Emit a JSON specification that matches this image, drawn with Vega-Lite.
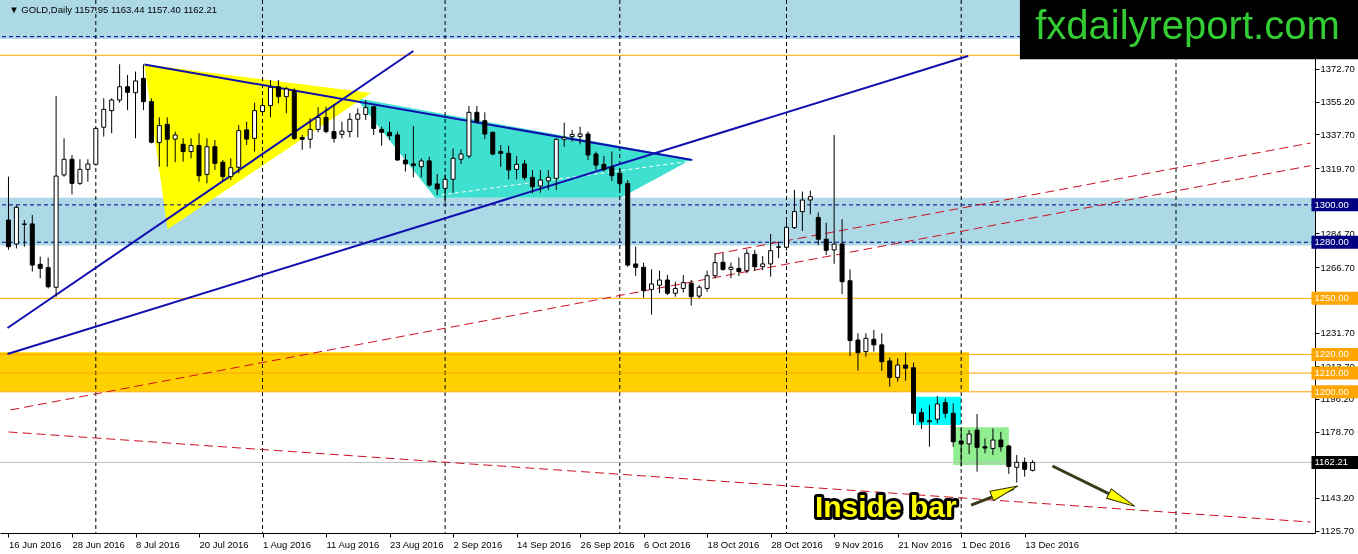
{
  "$schema": "https://vega.github.io/schema/vega-lite/v6.json",
  "width": 1315,
  "height": 533,
  "autosize": {"type": "none"},
  "padding": {"left": 0, "top": 0, "right": 43, "bottom": 21},
  "background": "white",
  "config": {
    "view": {"stroke": null},
    "axis": {"labelFont": "Liberation Sans", "labelFontSize": 9.5, "labelColor": "#000000", "domainColor": "#000000", "tickColor": "#000000", "domainWidth": 1, "tickWidth": 1, "grid": false},
    "text": {"font": "Liberation Sans"}
  },
  "datasets": {
    "candles": [
      {"i":0,"date":"2016-06-16","o":1291.9,"h":1315.1,"l":1276.0,"c":1277.6},
      {"i":1,"date":"2016-06-17","o":1279.1,"h":1299.9,"l":1276.7,"c":1298.7},
      {"i":2,"date":"2016-06-20","o":1289.5,"h":1291.9,"l":1277.6,"c":1289.8},
      {"i":3,"date":"2016-06-21","o":1289.8,"h":1294.6,"l":1264.3,"c":1267.8},
      {"i":4,"date":"2016-06-22","o":1268.2,"h":1272.3,"l":1260.7,"c":1266.0},
      {"i":5,"date":"2016-06-23","o":1266.4,"h":1271.8,"l":1255.3,"c":1256.2},
      {"i":6,"date":"2016-06-24","o":1255.9,"h":1358.2,"l":1250.9,"c":1315.4},
      {"i":7,"date":"2016-06-27","o":1316.0,"h":1335.6,"l":1315.1,"c":1324.4},
      {"i":8,"date":"2016-06-28","o":1324.4,"h":1326.7,"l":1305.6,"c":1311.5},
      {"i":9,"date":"2016-06-29","o":1311.5,"h":1324.4,"l":1310.6,"c":1319.0},
      {"i":10,"date":"2016-06-30","o":1319.0,"h":1324.4,"l":1312.4,"c":1321.9},
      {"i":11,"date":"2016-07-01","o":1321.7,"h":1341.5,"l":1321.0,"c":1340.9},
      {"i":12,"date":"2016-07-04","o":1341.5,"h":1357.0,"l":1336.5,"c":1351.1},
      {"i":13,"date":"2016-07-05","o":1350.4,"h":1357.0,"l":1338.3,"c":1356.1},
      {"i":14,"date":"2016-07-06","o":1356.1,"h":1375.2,"l":1354.7,"c":1363.2},
      {"i":15,"date":"2016-07-07","o":1363.2,"h":1369.5,"l":1350.7,"c":1360.2},
      {"i":16,"date":"2016-07-08","o":1360.0,"h":1371.3,"l":1335.6,"c":1366.3},
      {"i":17,"date":"2016-07-11","o":1367.7,"h":1375.2,"l":1350.7,"c":1355.2},
      {"i":18,"date":"2016-07-12","o":1355.2,"h":1357.0,"l":1332.9,"c":1333.5},
      {"i":19,"date":"2016-07-13","o":1333.3,"h":1346.8,"l":1320.4,"c":1342.4},
      {"i":20,"date":"2016-07-14","o":1343.1,"h":1346.8,"l":1320.4,"c":1335.1},
      {"i":21,"date":"2016-07-15","o":1335.2,"h":1339.2,"l":1322.8,"c":1337.4},
      {"i":22,"date":"2016-07-18","o":1332.4,"h":1335.6,"l":1323.1,"c":1328.5},
      {"i":23,"date":"2016-07-19","o":1328.5,"h":1335.6,"l":1324.9,"c":1331.7},
      {"i":24,"date":"2016-07-20","o":1331.7,"h":1338.3,"l":1312.4,"c":1315.6},
      {"i":25,"date":"2016-07-21","o":1316.3,"h":1335.6,"l":1311.5,"c":1331.1},
      {"i":26,"date":"2016-07-22","o":1331.1,"h":1334.7,"l":1318.7,"c":1322.2},
      {"i":27,"date":"2016-07-25","o":1322.8,"h":1324.0,"l":1312.8,"c":1315.1},
      {"i":28,"date":"2016-07-26","o":1315.1,"h":1324.9,"l":1313.3,"c":1319.9},
      {"i":29,"date":"2016-07-27","o":1320.1,"h":1342.7,"l":1316.9,"c":1339.7},
      {"i":30,"date":"2016-07-28","o":1340.1,"h":1344.5,"l":1332.0,"c":1335.2},
      {"i":31,"date":"2016-07-29","o":1335.6,"h":1354.7,"l":1328.5,"c":1350.4},
      {"i":32,"date":"2016-08-01","o":1349.9,"h":1355.2,"l":1348.1,"c":1353.1},
      {"i":33,"date":"2016-08-02","o":1353.1,"h":1366.8,"l":1346.8,"c":1362.9},
      {"i":34,"date":"2016-08-03","o":1363.2,"h":1366.8,"l":1354.3,"c":1357.9},
      {"i":35,"date":"2016-08-04","o":1357.9,"h":1363.2,"l":1349.0,"c":1362.0},
      {"i":36,"date":"2016-08-05","o":1361.1,"h":1362.3,"l":1334.7,"c":1335.6},
      {"i":37,"date":"2016-08-08","o":1336.0,"h":1337.4,"l":1329.4,"c":1335.1},
      {"i":38,"date":"2016-08-09","o":1335.1,"h":1346.3,"l":1330.2,"c":1340.4},
      {"i":39,"date":"2016-08-10","o":1340.4,"h":1352.2,"l":1338.8,"c":1346.8},
      {"i":40,"date":"2016-08-11","o":1346.8,"h":1352.5,"l":1338.3,"c":1339.2},
      {"i":41,"date":"2016-08-12","o":1339.2,"h":1353.8,"l":1333.3,"c":1335.6},
      {"i":42,"date":"2016-08-15","o":1337.7,"h":1344.5,"l":1335.6,"c":1339.5},
      {"i":43,"date":"2016-08-16","o":1339.2,"h":1349.0,"l":1336.1,"c":1345.8},
      {"i":44,"date":"2016-08-17","o":1345.8,"h":1351.6,"l":1336.1,"c":1348.6},
      {"i":45,"date":"2016-08-18","o":1348.4,"h":1356.1,"l":1345.4,"c":1352.0},
      {"i":46,"date":"2016-08-19","o":1352.5,"h":1352.9,"l":1337.4,"c":1340.9},
      {"i":47,"date":"2016-08-22","o":1340.4,"h":1341.8,"l":1331.7,"c":1338.8},
      {"i":48,"date":"2016-08-23","o":1338.8,"h":1344.5,"l":1334.7,"c":1337.0},
      {"i":49,"date":"2016-08-24","o":1337.4,"h":1339.2,"l":1323.6,"c":1324.0},
      {"i":50,"date":"2016-08-25","o":1324.0,"h":1327.2,"l":1317.8,"c":1321.9},
      {"i":51,"date":"2016-08-26","o":1321.9,"h":1342.2,"l":1314.7,"c":1321.0},
      {"i":52,"date":"2016-08-29","o":1320.4,"h":1324.9,"l":1314.7,"c":1323.5},
      {"i":53,"date":"2016-08-30","o":1323.5,"h":1325.8,"l":1309.7,"c":1310.6},
      {"i":54,"date":"2016-08-31","o":1311.2,"h":1316.5,"l":1305.3,"c":1308.5},
      {"i":55,"date":"2016-09-01","o":1308.8,"h":1316.3,"l":1301.2,"c":1313.7},
      {"i":56,"date":"2016-09-02","o":1313.7,"h":1330.2,"l":1306.5,"c":1324.9},
      {"i":57,"date":"2016-09-05","o":1324.4,"h":1329.7,"l":1321.9,"c":1327.2},
      {"i":58,"date":"2016-09-06","o":1326.1,"h":1352.9,"l":1324.9,"c":1349.5},
      {"i":59,"date":"2016-09-07","o":1349.5,"h":1352.9,"l":1343.6,"c":1344.5},
      {"i":60,"date":"2016-09-08","o":1345.0,"h":1349.5,"l":1335.2,"c":1337.9},
      {"i":61,"date":"2016-09-09","o":1338.8,"h":1339.2,"l":1326.5,"c":1327.2},
      {"i":62,"date":"2016-09-12","o":1328.5,"h":1332.0,"l":1320.4,"c":1327.6},
      {"i":63,"date":"2016-09-13","o":1327.6,"h":1331.7,"l":1313.7,"c":1318.7},
      {"i":64,"date":"2016-09-14","o":1319.0,"h":1326.1,"l":1313.7,"c":1321.7},
      {"i":65,"date":"2016-09-15","o":1321.9,"h":1324.0,"l":1313.3,"c":1314.6},
      {"i":66,"date":"2016-09-16","o":1314.7,"h":1318.7,"l":1306.2,"c":1309.7},
      {"i":67,"date":"2016-09-19","o":1310.1,"h":1318.7,"l":1306.5,"c":1313.3},
      {"i":68,"date":"2016-09-20","o":1312.8,"h":1318.7,"l":1307.9,"c":1314.7},
      {"i":69,"date":"2016-09-21","o":1314.2,"h":1335.6,"l":1307.9,"c":1335.1},
      {"i":70,"date":"2016-09-22","o":1335.1,"h":1344.0,"l":1331.1,"c":1336.1},
      {"i":71,"date":"2016-09-23","o":1336.5,"h":1340.1,"l":1333.8,"c":1337.7},
      {"i":72,"date":"2016-09-26","o":1336.5,"h":1341.8,"l":1332.4,"c":1337.9},
      {"i":73,"date":"2016-09-27","o":1337.9,"h":1339.2,"l":1324.0,"c":1326.7},
      {"i":74,"date":"2016-09-28","o":1327.2,"h":1328.5,"l":1318.7,"c":1321.3},
      {"i":75,"date":"2016-09-29","o":1321.7,"h":1326.1,"l":1317.8,"c":1319.0},
      {"i":76,"date":"2016-09-30","o":1320.1,"h":1328.5,"l":1312.8,"c":1315.6},
      {"i":77,"date":"2016-10-03","o":1316.9,"h":1319.5,"l":1307.9,"c":1311.5},
      {"i":78,"date":"2016-10-04","o":1311.5,"h":1313.3,"l":1266.9,"c":1267.8},
      {"i":79,"date":"2016-10-05","o":1268.4,"h":1277.6,"l":1262.0,"c":1266.6},
      {"i":80,"date":"2016-10-06","o":1266.6,"h":1269.1,"l":1250.3,"c":1254.1},
      {"i":81,"date":"2016-10-07","o":1254.8,"h":1265.5,"l":1241.3,"c":1257.7},
      {"i":82,"date":"2016-10-10","o":1257.0,"h":1264.8,"l":1252.7,"c":1259.8},
      {"i":83,"date":"2016-10-11","o":1259.8,"h":1262.5,"l":1251.8,"c":1252.7},
      {"i":84,"date":"2016-10-12","o":1252.7,"h":1258.9,"l":1250.9,"c":1255.3},
      {"i":85,"date":"2016-10-13","o":1255.3,"h":1262.5,"l":1253.0,"c":1258.4},
      {"i":86,"date":"2016-10-14","o":1258.0,"h":1259.8,"l":1246.1,"c":1250.9},
      {"i":87,"date":"2016-10-17","o":1251.2,"h":1257.1,"l":1250.0,"c":1255.9},
      {"i":88,"date":"2016-10-18","o":1255.3,"h":1264.8,"l":1253.6,"c":1262.1},
      {"i":89,"date":"2016-10-19","o":1262.1,"h":1274.1,"l":1260.7,"c":1269.1},
      {"i":90,"date":"2016-10-20","o":1269.3,"h":1274.1,"l":1264.8,"c":1265.5},
      {"i":91,"date":"2016-10-21","o":1265.5,"h":1269.1,"l":1260.7,"c":1266.6},
      {"i":92,"date":"2016-10-24","o":1266.0,"h":1271.9,"l":1261.9,"c":1264.3},
      {"i":93,"date":"2016-10-25","o":1264.8,"h":1276.2,"l":1263.4,"c":1274.1},
      {"i":94,"date":"2016-10-26","o":1273.5,"h":1275.9,"l":1264.8,"c":1266.9},
      {"i":95,"date":"2016-10-27","o":1266.9,"h":1272.6,"l":1265.1,"c":1268.4},
      {"i":96,"date":"2016-10-28","o":1268.4,"h":1284.4,"l":1261.6,"c":1275.5},
      {"i":97,"date":"2016-10-31","o":1277.3,"h":1280.3,"l":1271.4,"c":1277.6},
      {"i":98,"date":"2016-11-01","o":1277.3,"h":1292.8,"l":1275.5,"c":1288.0},
      {"i":99,"date":"2016-11-02","o":1287.8,"h":1308.0,"l":1287.1,"c":1296.4},
      {"i":100,"date":"2016-11-03","o":1296.4,"h":1307.1,"l":1286.0,"c":1302.6},
      {"i":101,"date":"2016-11-04","o":1302.6,"h":1307.6,"l":1294.9,"c":1304.4},
      {"i":102,"date":"2016-11-07","o":1293.3,"h":1296.0,"l":1278.5,"c":1281.6},
      {"i":103,"date":"2016-11-08","o":1281.6,"h":1290.5,"l":1273.2,"c":1275.7},
      {"i":104,"date":"2016-11-09","o":1275.9,"h":1337.4,"l":1268.5,"c":1279.0},
      {"i":105,"date":"2016-11-10","o":1279.1,"h":1292.3,"l":1252.3,"c":1258.9},
      {"i":106,"date":"2016-11-11","o":1259.4,"h":1265.5,"l":1219.1,"c":1227.4},
      {"i":107,"date":"2016-11-14","o":1227.7,"h":1231.3,"l":1211.3,"c":1220.9},
      {"i":108,"date":"2016-11-15","o":1221.5,"h":1231.3,"l":1218.8,"c":1228.6},
      {"i":109,"date":"2016-11-16","o":1228.1,"h":1233.1,"l":1221.5,"c":1225.1},
      {"i":110,"date":"2016-11-17","o":1225.1,"h":1231.3,"l":1211.1,"c":1216.1},
      {"i":111,"date":"2016-11-18","o":1216.5,"h":1218.4,"l":1202.7,"c":1207.7},
      {"i":112,"date":"2016-11-21","o":1207.7,"h":1217.9,"l":1205.4,"c":1214.3},
      {"i":113,"date":"2016-11-22","o":1214.3,"h":1220.9,"l":1205.9,"c":1212.6},
      {"i":114,"date":"2016-11-23","o":1212.9,"h":1215.6,"l":1182.2,"c":1188.5},
      {"i":115,"date":"2016-11-24","o":1188.8,"h":1191.1,"l":1180.1,"c":1184.0},
      {"i":116,"date":"2016-11-25","o":1184.5,"h":1192.9,"l":1170.6,"c":1184.0},
      {"i":117,"date":"2016-11-28","o":1185.3,"h":1197.7,"l":1183.1,"c":1193.5},
      {"i":118,"date":"2016-11-29","o":1194.2,"h":1196.5,"l":1185.8,"c":1188.5},
      {"i":119,"date":"2016-11-30","o":1188.5,"h":1193.8,"l":1170.6,"c":1173.3},
      {"i":120,"date":"2016-12-01","o":1173.7,"h":1180.4,"l":1160.0,"c":1172.1},
      {"i":121,"date":"2016-12-02","o":1172.1,"h":1179.5,"l":1166.7,"c":1177.4},
      {"i":122,"date":"2016-12-05","o":1179.5,"h":1188.1,"l":1157.3,"c":1170.3},
      {"i":123,"date":"2016-12-06","o":1170.6,"h":1175.1,"l":1167.1,"c":1169.9},
      {"i":124,"date":"2016-12-07","o":1169.7,"h":1180.4,"l":1166.2,"c":1174.2},
      {"i":125,"date":"2016-12-08","o":1174.2,"h":1178.6,"l":1168.0,"c":1170.6},
      {"i":126,"date":"2016-12-09","o":1171.0,"h":1171.5,"l":1156.1,"c":1160.0},
      {"i":127,"date":"2016-12-12","o":1159.6,"h":1166.2,"l":1151.4,"c":1162.3},
      {"i":128,"date":"2016-12-13","o":1162.3,"h":1164.8,"l":1154.6,"c":1158.5},
      {"i":129,"date":"2016-12-14","o":1157.95,"h":1163.44,"l":1157.4,"c":1162.21}
    ],
    "blueZones": [
      {"i1": -2, "i2": 166, "p1": 1388.8, "p2": 1415},
      {"i1": -2, "i2": 166, "p1": 1278.2, "p2": 1303.8}
    ],
    "goldZone": [{"i1": -2, "i2": 121, "p1": 1200.2, "p2": 1221.1}],
    "cyanBox": [{"i1": 114.33, "i2": 120, "p1": 1182.2, "p2": 1197.4}],
    "greenBox": [{"i1": 119, "i2": 126, "p1": 1160.8, "p2": 1181.0}],
    "yellowTri": [
      {"i": 17.125, "top": 1375.2, "bot": 1375.2},
      {"i": 20.04, "top": 1373.6, "bot": 1286.9},
      {"i": 45.625, "top": 1359.85, "bot": 1359.85}
    ],
    "turqTri": [
      {"i": 43.75, "top": 1357.2, "bot": 1357.2},
      {"i": 53.75, "top": 1349.4, "bot": 1303.8},
      {"i": 77.125, "top": 1331.3, "bot": 1303.8},
      {"i": 86.1, "top": 1324.4, "bot": 1324.4}
    ],
    "separators": [{"i": 11}, {"i": 32}, {"i": 55}, {"i": 77}, {"i": 98}, {"i": 120}, {"i": 147.06}],
    "navyLevels": [{"p": 1390}, {"p": 1300}, {"p": 1280}],
    "orangeLevels": [{"p": 1380}, {"p": 1250}, {"p": 1220}, {"p": 1210}, {"p": 1200}],
    "bidLevel": [{"p": 1162.21}],
    "redLines": [
      {"id": "R1", "i": 0.25, "p": 1190.3}, {"id": "R1", "i": 164, "p": 1320.95},
      {"id": "R2", "i": 89, "p": 1273.7}, {"id": "R2", "i": 164, "p": 1333.1},
      {"id": "R3", "i": 0, "p": 1178.5}, {"id": "R3", "i": 164, "p": 1130.3}
    ],
    "whiteLine": [{"i": 54.5, "p": 1305.3}, {"i": 86.1, "p": 1323.5}],
    "blueLines": [
      {"id": "L1", "i": 17.125, "p": 1375.1}, {"id": "L1", "i": 86.125, "p": 1324.0},
      {"id": "L2", "i": -0.125, "p": 1234.1}, {"id": "L2", "i": 51.0, "p": 1382.3},
      {"id": "L3", "i": -0.125, "p": 1220.2}, {"id": "L3", "i": 120.875, "p": 1379.6}
    ],
    "shafts": [
      {"id": "a1", "i": 121.25, "p": 1139.4}, {"id": "a1", "i": 126.6, "p": 1148.2},
      {"id": "a2", "i": 131.5, "p": 1160.3}, {"id": "a2", "i": 141.2, "p": 1140.0}
    ],
    "tags": [
      {"p": 1300, "t": "1300.00", "g": "zone"},
      {"p": 1280, "t": "1280.00", "g": "zone"},
      {"p": 1250, "t": "1250.00", "g": "level"},
      {"p": 1220, "t": "1220.00", "g": "level"},
      {"p": 1210, "t": "1210.00", "g": "level"},
      {"p": 1200, "t": "1200.00", "g": "level"},
      {"p": 1162.21, "t": "1162.21", "g": "bid"}
    ]
  },
  "resolve": {"axis": {"x": "independent", "y": "independent"}},
  "layer": [
    {
      "data": {"name": "blueZones"},
      "mark": {"type": "rect", "fill": "#ADD8E6", "clip": true},
      "encoding": {
        "x": {"field": "i1", "type": "quantitative", "title": null,
          "scale": {"domain": [-0.4375, 163.9375], "nice": false, "zero": false},
          "axis": {"orient": "bottom", "values": [0, 8, 16, 24, 32, 40, 48, 56, 64, 72, 80, 88, 96, 104, 112, 120, 128], "tickSize": 4, "labelAlign": "left", "labelBaseline": "top", "labelPadding": 2, "labelFlush": false, "labelOverlap": false, "title": null,
            "labelExpr": "datum.value == 0 ? '16 Jun 2016' : datum.value == 8 ? '28 Jun 2016' : datum.value == 16 ? '8 Jul 2016' : datum.value == 24 ? '20 Jul 2016' : datum.value == 32 ? '1 Aug 2016' : datum.value == 40 ? '11 Aug 2016' : datum.value == 48 ? '23 Aug 2016' : datum.value == 56 ? '2 Sep 2016' : datum.value == 64 ? '14 Sep 2016' : datum.value == 72 ? '26 Sep 2016' : datum.value == 80 ? '6 Oct 2016' : datum.value == 88 ? '18 Oct 2016' : datum.value == 96 ? '28 Oct 2016' : datum.value == 104 ? '9 Nov 2016' : datum.value == 112 ? '21 Nov 2016' : datum.value == 120 ? '1 Dec 2016' : '13 Dec 2016'"}},
        "x2": {"field": "i2"},
        "y": {"field": "p1", "type": "quantitative", "title": null,
          "scale": {"domain": [1124.45, 1409.6], "nice": false, "zero": false},
          "axis": {"orient": "right", "values": [1372.7, 1355.2, 1337.7, 1319.7, 1284.7, 1266.7, 1231.7, 1213.7, 1196.2, 1178.7, 1143.2, 1125.7], "format": ".2f", "tickSize": 4, "labelPadding": 1, "labelBaseline": "middle", "labelOverlap": false, "labelFlush": false, "title": null}},
        "y2": {"field": "p2"}
      }
    },
    {
      "data": {"name": "goldZone"},
      "mark": {"type": "rect", "fill": "#FFD000", "clip": true},
      "encoding": {
        "x": {"field": "i1", "type": "quantitative", "axis": null},
        "x2": {"field": "i2"},
        "y": {"field": "p1", "type": "quantitative", "axis": null},
        "y2": {"field": "p2"}
      }
    },
    {
      "data": {"name": "cyanBox"},
      "mark": {"type": "rect", "fill": "#00FFFF", "clip": true},
      "encoding": {
        "x": {"field": "i1", "type": "quantitative", "axis": null},
        "x2": {"field": "i2"},
        "y": {"field": "p1", "type": "quantitative", "axis": null},
        "y2": {"field": "p2"}
      }
    },
    {
      "data": {"name": "greenBox"},
      "mark": {"type": "rect", "fill": "#90EE90", "clip": true},
      "encoding": {
        "x": {"field": "i1", "type": "quantitative", "axis": null},
        "x2": {"field": "i2"},
        "y": {"field": "p1", "type": "quantitative", "axis": null},
        "y2": {"field": "p2"}
      }
    },
    {
      "data": {"name": "turqTri"},
      "mark": {"type": "area", "fill": "#40E0D0", "clip": true},
      "encoding": {
        "x": {"field": "i", "type": "quantitative", "axis": null},
        "y": {"field": "top", "type": "quantitative", "axis": null},
        "y2": {"field": "bot"}
      }
    },
    {
      "data": {"name": "yellowTri"},
      "mark": {"type": "area", "fill": "#FFFF00", "blend": "multiply", "clip": true},
      "encoding": {
        "x": {"field": "i", "type": "quantitative", "axis": null},
        "y": {"field": "top", "type": "quantitative", "axis": null},
        "y2": {"field": "bot"}
      }
    },
    {
      "data": {"name": "separators"},
      "mark": {"type": "rule", "color": "#000000", "strokeWidth": 1, "strokeDash": [4, 3], "clip": true},
      "encoding": {
        "x": {"field": "i", "type": "quantitative", "axis": null}
      }
    },
    {
      "data": {"name": "navyLevels"},
      "mark": {"type": "rule", "color": "#000080", "strokeWidth": 1, "strokeDash": [4, 3], "clip": true},
      "encoding": {
        "y": {"field": "p", "type": "quantitative", "axis": null}
      }
    },
    {
      "data": {"name": "orangeLevels"},
      "mark": {"type": "rule", "color": "#FFA500", "strokeWidth": 1, "clip": true},
      "encoding": {
        "y": {"field": "p", "type": "quantitative", "axis": null}
      }
    },
    {
      "data": {"name": "bidLevel"},
      "mark": {"type": "rule", "color": "#C0C0C0", "strokeWidth": 1, "clip": true},
      "encoding": {
        "y": {"field": "p", "type": "quantitative", "axis": null}
      }
    },
    {
      "data": {"name": "redLines"},
      "mark": {"type": "line", "color": "#CC1020", "strokeWidth": 1, "strokeDash": [9, 5], "clip": true},
      "encoding": {
        "x": {"field": "i", "type": "quantitative", "axis": null},
        "y": {"field": "p", "type": "quantitative", "axis": null},
        "detail": {"field": "id"}
      }
    },
    {
      "data": {"name": "whiteLine"},
      "mark": {"type": "line", "color": "#FFFFFF", "strokeWidth": 1, "strokeDash": [4, 3], "clip": true},
      "encoding": {
        "x": {"field": "i", "type": "quantitative", "axis": null},
        "y": {"field": "p", "type": "quantitative", "axis": null}
      }
    },
    {
      "data": {"name": "blueLines"},
      "mark": {"type": "line", "color": "#1010B0", "strokeWidth": 2, "clip": true},
      "encoding": {
        "x": {"field": "i", "type": "quantitative", "axis": null},
        "y": {"field": "p", "type": "quantitative", "axis": null},
        "detail": {"field": "id"}
      }
    },
    {
      "data": {"name": "candles"},
      "mark": {"type": "rule", "color": "#000000", "strokeWidth": 1, "clip": true},
      "encoding": {
        "x": {"field": "i", "type": "quantitative", "axis": null},
        "y": {"field": "l", "type": "quantitative", "axis": null},
        "y2": {"field": "h"}
      }
    },
    {
      "data": {"name": "candles"},
      "mark": {"type": "bar", "width": 4, "stroke": "#000000", "strokeWidth": 1, "clip": true},
      "encoding": {
        "x": {"field": "i", "type": "quantitative", "axis": null},
        "y": {"field": "o", "type": "quantitative", "axis": null},
        "y2": {"field": "c"},
        "fill": {"condition": {"test": "datum.c >= datum.o", "value": "#FFFFFF"}, "value": "#000000"}
      }
    },
    {
      "data": {"name": "shafts"},
      "mark": {"type": "line", "color": "#3A3A18", "strokeWidth": 3},
      "encoding": {
        "x": {"field": "i", "type": "quantitative", "axis": null},
        "y": {"field": "p", "type": "quantitative", "axis": null},
        "detail": {"field": "id"}
      }
    },
    {
      "data": {"values": [{"i": 125.5, "p": 1146.9}]},
      "mark": {"type": "point", "shape": "M -1 -0.36 L 1 0 L -1 0.36 Z", "size": 784, "filled": true, "fill": "#FFFF00", "stroke": "#333300", "strokeWidth": 1, "opacity": 1, "angle": 339},
      "encoding": {
        "x": {"field": "i", "type": "quantitative", "axis": null},
        "y": {"field": "p", "type": "quantitative", "axis": null}
      }
    },
    {
      "data": {"values": [{"i": 140.25, "p": 1142.1}]},
      "mark": {"type": "point", "shape": "M -1 -0.36 L 1 0 L -1 0.36 Z", "size": 841, "filled": true, "fill": "#FFFF00", "stroke": "#333300", "strokeWidth": 1, "opacity": 1, "angle": 26},
      "encoding": {
        "x": {"field": "i", "type": "quantitative", "axis": null},
        "y": {"field": "p", "type": "quantitative", "axis": null}
      }
    },
    {
      "data": {"values": [{"t": "Inside bar"}]},
      "mark": {"type": "text", "font": "Liberation Sans", "fontSize": 30, "fontWeight": "bold", "fill": "#000000", "stroke": "#000000", "strokeWidth": 6, "strokeJoin": "round", "align": "center", "baseline": "middle"},
      "encoding": {
        "x": {"datum": 110.5, "type": "quantitative", "axis": null},
        "y": {"datum": 1137.8, "type": "quantitative", "axis": null},
        "text": {"field": "t"}
      }
    },
    {
      "data": {"values": [{"t": "Inside bar"}]},
      "mark": {"type": "text", "font": "Liberation Sans", "fontSize": 30, "fontWeight": "bold", "fill": "#FFFF00", "align": "center", "baseline": "middle"},
      "encoding": {
        "x": {"datum": 110.5, "type": "quantitative", "axis": null},
        "y": {"datum": 1137.8, "type": "quantitative", "axis": null},
        "text": {"field": "t"}
      }
    },
    {
      "data": {"values": [{"t": "▼ GOLD,Daily  1157.95 1163.44 1157.40 1162.21"}]},
      "mark": {"type": "text", "font": "Liberation Sans", "fontSize": 9.5, "color": "#000000", "align": "left", "baseline": "middle"},
      "encoding": {
        "x": {"datum": 0.1, "type": "quantitative", "axis": null},
        "y": {"datum": 1404.25, "type": "quantitative", "axis": null},
        "text": {"field": "t"}
      }
    },
    {
      "data": {"values": [{"t": "fxdailyreport.com"}]},
      "mark": {"type": "rect", "fill": "#000000"},
      "encoding": {
        "x": {"datum": 127.4, "type": "quantitative", "axis": null},
        "x2": {"datum": 175},
        "y": {"datum": 1377.9, "type": "quantitative", "axis": null},
        "y2": {"datum": 1425}
      }
    },
    {
      "data": {"values": [{"t": "fxdailyreport.com"}]},
      "mark": {"type": "text", "font": "Liberation Sans", "fontSize": 40, "color": "#33CC33", "align": "center", "baseline": "alphabetic"},
      "encoding": {
        "x": {"datum": 148.5, "type": "quantitative", "axis": null},
        "y": {"datum": 1388.6, "type": "quantitative", "axis": null},
        "text": {"field": "t"}
      }
    },
    {
      "data": {"name": "tags"},
      "mark": {"type": "rule", "strokeWidth": 13, "strokeCap": "butt"},
      "encoding": {
        "x": {"datum": 164.125, "type": "quantitative", "axis": null},
        "x2": {"datum": 170},
        "y": {"field": "p", "type": "quantitative", "axis": null},
        "color": {"field": "g", "type": "nominal", "scale": {"domain": ["zone", "level", "bid"], "range": ["#000080", "#FFA500", "#000000"]}, "legend": null}
      }
    },
    {
      "data": {"name": "tags"},
      "mark": {"type": "text", "font": "Liberation Sans", "fontSize": 9.5, "color": "#FFFFFF", "align": "left", "baseline": "middle"},
      "encoding": {
        "x": {"datum": 164.5, "type": "quantitative", "axis": null},
        "y": {"field": "p", "type": "quantitative", "axis": null},
        "text": {"field": "t"}
      }
    }
  ]
}
